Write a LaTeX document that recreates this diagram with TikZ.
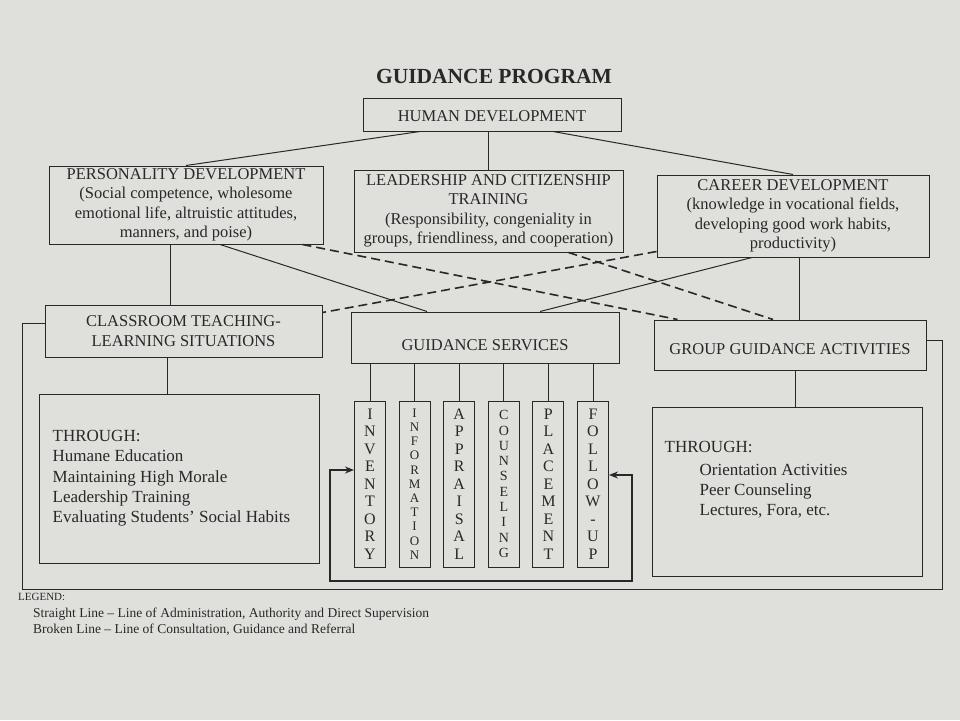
\documentclass[tikz,border=0pt]{standalone}
\usepackage{fontspec}
\setmainfont{Liberation Serif}
\usetikzlibrary{positioning, arrows.meta}
\definecolor{paper}{RGB}{223,223,220}
\definecolor{ink}{RGB}{40,40,40}
\tikzstyle{heading} = [rectangle, draw=ink, line width=1pt, text=ink, align=center, inner sep=1pt, font=\fontsize{16.5}{19.5}\selectfont]
\tikzstyle{service} = [rectangle, draw=ink, line width=1pt, text=ink, align=center, minimum width=31pt, minimum height=166pt, inner sep=0pt, font=\fontsize{16}{17.5}\selectfont]
\tikzstyle{listtext} = [text=ink, align=left, inner sep=0pt, font=\fontsize{17}{20.3}\selectfont]
\tikzstyle{legendtext} = [text=ink, anchor=west, inner sep=0pt, font=\fontsize{13.5}{15}\selectfont]
\tikzstyle{adminline} = [draw=ink, line width=1pt]
\tikzstyle{consult} = [draw=ink, line width=1.6pt, dash pattern=on 9pt off 5pt]
\tikzstyle{arrow} = [draw=ink, line width=1.4pt, >={Stealth[length=9pt, width=7pt]}]
\begin{document}
\begin{tikzpicture}[x=1pt, y=-1pt, node distance=44.6pt]

\fill [paper] (0,0) rectangle (960,720);

\node (title) [text=ink, font=\bfseries\fontsize{21.5}{24}\selectfont] at (494,76) {GUIDANCE PROGRAM};
\node (human) [heading, minimum width=258pt, minimum height=33pt, text height=15pt] at (492,114.5) {HUMAN DEVELOPMENT};
\node (pers) [heading, minimum width=274pt, minimum height=78pt] at (186,205) {PERSONALITY DEVELOPMENT\\(Social competence, wholesome\\emotional life, altruistic attitudes,\\manners, and poise)};
\node (lead) [heading, minimum width=269pt, minimum height=82pt] at (488.5,211) {LEADERSHIP AND CITIZENSHIP\\TRAINING\\(Responsibility, congeniality in\\groups, friendliness, and cooperation)};
\node (career) [heading, minimum width=272pt, minimum height=82pt] at (793,216) {CAREER DEVELOPMENT\\(knowledge in vocational fields,\\developing good work habits,\\productivity)};
\node (class) [heading, minimum width=277pt, minimum height=52pt] at (183.5,331) {CLASSROOM TEACHING-\\LEARNING SITUATIONS};
\node (serv) [heading, minimum width=268pt, minimum height=51pt, text height=26pt] at (485,337.5) {GUIDANCE SERVICES};
\node (group) [heading, minimum width=272pt, minimum height=50pt, text height=20pt] at (790,345) {GROUP GUIDANCE ACTIVITIES};
\node (lthru) [heading, minimum width=280pt, minimum height=169pt] at (179,479) {};
\node (rthru) [heading, minimum width=270pt, minimum height=169pt] at (787,491.5) {};

\node (lthrulist) [listtext, below right=36pt and 14pt of lthru.north west] {THROUGH:\\Humane Education\\Maintaining High Morale\\Leadership Training\\Evaluating Students' Social Habits};
\node (rthrulist) [listtext, below right=35pt and 13pt of rthru.north west] {THROUGH:\\[2pt]\hspace*{35pt}Orientation Activities\\\hspace*{35pt}Peer Counseling\\\hspace*{35pt}Lectures, Fora, etc.};

\node (inv) [service] at (370,484) {I\\N\\V\\E\\N\\T\\O\\R\\Y};
\node (inf) [service, right of=inv, font=\fontsize{13}{14.2}\selectfont] {I\\N\\F\\O\\R\\M\\A\\T\\I\\O\\N};
\node (app) [service, right of=inf] {A\\P\\P\\R\\A\\I\\S\\A\\L};
\node (cou) [service, right of=app, font=\fontsize{14}{15.3}\selectfont] {C\\O\\U\\N\\S\\E\\L\\I\\N\\G};
\node (pla) [service, right of=cou] {P\\L\\A\\C\\E\\M\\E\\N\\T};
\node (fol) [service, right of=pla] {F\\O\\L\\L\\O\\W\\{-}\\U\\P};

\node (legend) [legendtext, font=\fontsize{11}{12}\selectfont] at (18,597) {LEGEND:};
\node (legend1) [legendtext] at (33,614) {Straight Line -- Line of Administration, Authority and Direct Supervision};
\node (legend2) [legendtext] at (33,630) {Broken Line -- Line of Consultation, Guidance and Referral};

\draw [adminline] ([xshift=-72pt]human.south) -- (pers.north);
\draw [adminline] (human.south -| lead.north) -- (lead.north);
\draw [adminline] ([xshift=61pt]human.south) -- (career.north);
\draw [adminline] ([xshift=-16pt]pers.south) -- ([xshift=-16pt]pers.south |- class.north);
\draw [adminline] ([xshift=34pt]pers.south) -- ([xshift=-58pt]serv.north);
\draw [adminline] ([xshift=-41pt]career.south) -- ([xshift=55pt]serv.north);
\draw [adminline] ([xshift=6pt]career.south) -- ([xshift=6pt]career.south |- group.north);
\draw [adminline] ([xshift=-16pt]class.south) -- ([xshift=-16pt]class.south |- lthru.north);
\draw [adminline] ([xshift=5pt]group.south) -- ([xshift=5pt]group.south |- rthru.north);

\draw [consult] ([xshift=-21pt]pers.south east) -- ([xshift=24pt]group.north west);
\draw [consult] ([xshift=80pt]lead.south) -- ([xshift=-17pt]group.north);
\draw [consult] ([yshift=6pt]career.south west) -- ([yshift=-8pt]class.north east);

\foreach \s in {inv,inf,app,cou,pla,fol}
  \draw [adminline] (serv.south -| \s.north) -- (\s.north);

\coordinate (innerl) at (330,581);
\coordinate (innerr) at (632,581);
\draw [arrow, <->] ([yshift=9pt]fol.east) -| (innerr) -- (innerl) |- ([yshift=14pt]inv.west);

\coordinate (outerbl) at (22,589);
\coordinate (outertr) at (942,340);
\draw [adminline] ([yshift=8pt]class.west) -| (outerbl) -| (outertr) -- ([yshift=5pt]group.east);

\end{tikzpicture}
\end{document}
